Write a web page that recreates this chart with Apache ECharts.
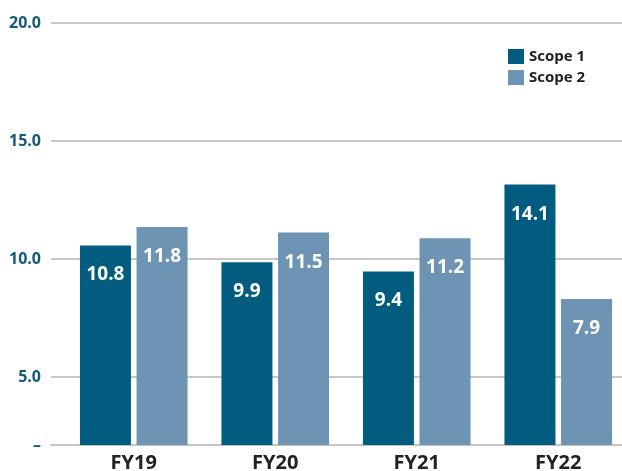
<!DOCTYPE html>
<html>
<head>
<meta charset="utf-8">
<script src="https://cdn.jsdelivr.net/npm/echarts@6/dist/echarts.min.js"></script>
<style>
  html, body { margin: 0; padding: 0; background: #fff; }
  #chart { width: 622px; height: 471px; }
</style>
</head>
<body>
<div id="chart"></div>
<script>
// values as printed on the bars
const categories = ['FY19', 'FY20', 'FY21', 'FY22'];
const scope1 = [10.8, 9.9, 9.4, 14.1];
const scope2 = [11.8, 11.5, 11.2, 7.9];

// left axis as printed (its spacing does not match the bars)
const tickValues = [2.12, 5, 10, 15, 20];
const tickLabels = ['–', '5.0', '10.0', '15.0', '20.0'];

const dark = '#015c80';
const light = '#6d94b2';
const font = "'Open Sans', sans-serif";

const chart = echarts.init(document.getElementById('chart'));

chart.setOption({
  animation: false,
  textStyle: { fontFamily: font },
  legend: {
    orient: 'vertical',
    left: 503,
    top: 44,
    itemWidth: 16,
    itemHeight: 15,
    itemGap: 6,
    icon: 'rect',
    textStyle: { fontSize: 15, fontWeight: 'bold', color: '#222', fontFamily: font },
    data: ['Scope 1', 'Scope 2']
  },
  grid: [
    // grid for the printed axis and gridlines
    { left: 51, right: 0, top: 23, bottom: 26, outerBoundsMode: 'none' },
    // grid for the bars, runs a little past the right edge
    { left: 63, width: 566, top: 23, bottom: 26, outerBoundsMode: 'none' }
  ],
  xAxis: [
    {
      gridIndex: 0, type: 'value', min: 0, max: 1, show: true,
      axisLine: { show: true, lineStyle: { color: '#c4c4c4', width: 2 } },
      axisTick: { show: false }, axisLabel: { show: false }, splitLine: { show: false }
    },
    {
      gridIndex: 1, type: 'category', data: categories,
      axisLine: { show: false }, axisTick: { show: false },
      axisLabel: { fontSize: 20, fontWeight: 'bold', color: '#222', margin: 8, fontFamily: font }
    }
  ],
  yAxis: [
    {
      gridIndex: 0, type: 'value', min: tickValues[0], max: 20,
      axisLine: { show: false },
      axisTick: { show: false, customValues: tickValues },
      axisLabel: {
        customValues: tickValues,
        margin: 10,
        fontSize: 16, fontWeight: 'bold', color: '#125a7c', fontFamily: font,
        formatter: v => tickLabels[tickValues.indexOf(v)] ?? ''
      },
      splitLine: { show: true, lineStyle: { color: '#c8c8c8', width: 2 } }
    },
    {
      gridIndex: 1, type: 'value', min: 0, max: 22.85, show: false,
      splitLine: { show: false }
    }
  ],
  series: [
    {
      name: 'Scope 1', type: 'bar', xAxisIndex: 1, yAxisIndex: 1,
      data: scope1, barWidth: 51, barGap: '11%',
      itemStyle: { color: dark },
      label: {
        show: true, position: 'insideTop', distance: 20,
        color: '#fff', fontSize: 19, fontWeight: 'bold', fontFamily: font,
        formatter: p => p.value.toFixed(1)
      }
    },
    {
      name: 'Scope 2', type: 'bar', xAxisIndex: 1, yAxisIndex: 1,
      data: scope2, barWidth: 51, barGap: '11%',
      itemStyle: { color: light },
      label: {
        show: true, position: 'insideTop', distance: 20,
        color: '#fff', fontSize: 19, fontWeight: 'bold', fontFamily: font,
        formatter: p => p.value.toFixed(1)
      }
    }
  ]
});
</script>
</body>
</html>
